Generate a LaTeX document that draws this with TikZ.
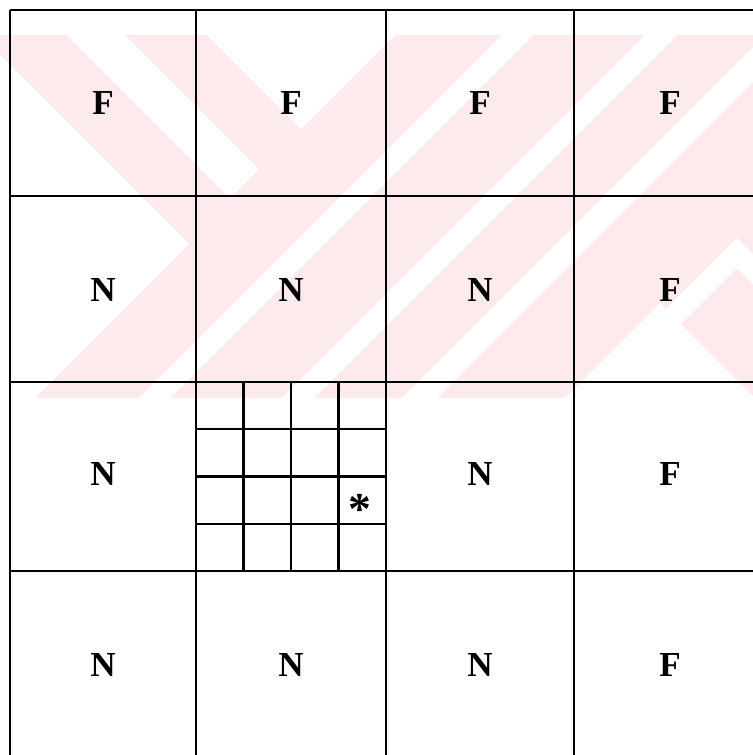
\documentclass[tikz,border=0pt]{standalone}
\usepackage{fontspec}
\setmainfont{Liberation Serif}
\usepackage{tikz}
\definecolor{wmpink}{RGB}{252,234,237}

\begin{document}
\begin{tikzpicture}[x=0.02cm, y=-0.02cm,
        grid/.style={line width=1.4pt, black},
        subgrid/.style={line width=1.3pt, black},
        lbl/.style={font=\fontsize{20}{22}\selectfont\bfseries}]
        \useasboundingbox (0,0) rectangle (753,755);
        % faint watermark of the scan
        \fill[wmpink] (0,35) rectangle (753,398);
        \fill[white] (0,55) -- (189,244) -- (35,398) -- (0,398) -- cycle;
        \fill[white] (67,35) -- (125,35) -- (259,169) -- (230,198) -- cycle;
        \fill[white] (207,35) -- (395,35) -- (301,129) -- cycle;
        \fill[white] (502,35) -- (533,35) -- (170,398) -- (139,398) -- cycle;
        \fill[white] (645,35) -- (677,35) -- (314,398) -- (282,398) -- cycle;
        \fill[white] (753,47) -- (753,82) -- (437,398) -- (402,398) -- cycle;
        \fill[white] (753,254) -- (737,238) -- (665,310) -- (680,325) -- (737,268) -- (753,284) -- cycle;
        \fill[white] (660,303) -- (565,398) -- (755,398) -- cycle;
        % coarse grid, open at right and bottom
        \foreach \x in {10,196,386,574}
            \draw[grid] (\x,10) -- (\x,755);
        \foreach \y in {10,196,382,571}
            \draw[grid] (10,\y) -- (753,\y);
        % refined cell
        \foreach \i in {1,2,3} {
            \draw[subgrid] ({196+\i*47.5},382) -- ({196+\i*47.5},571);
            \draw[subgrid] (196,{382+\i*47.25}) -- (386,{382+\i*47.25});
        }
        % cell labels
        \node[lbl] (r1c1) at (103,103) {F};
        \node[lbl] (r1c2) at (291,103) {F};
        \node[lbl] (r1c3) at (480,103) {F};
        \node[lbl] (r1c4) at (670,103) {F};
        \node[lbl] (r2c1) at (103,290) {N};
        \node[lbl] (r2c2) at (291,290) {N};
        \node[lbl] (r2c3) at (480,290) {N};
        \node[lbl] (r2c4) at (670,290) {F};
        \node[lbl] (r3c1) at (103,474) {N};
        \node[lbl] (r3c3) at (480,474) {N};
        \node[lbl] (r3c4) at (670,474) {F};
        \node[lbl] (r4c1) at (103,665) {N};
        \node[lbl] (r4c2) at (291,665) {N};
        \node[lbl] (r4c3) at (480,665) {N};
        \node[lbl] (r4c4) at (670,665) {F};
        \node[font=\fontsize{26}{28}\selectfont\bfseries] (refmark) at (360,509) {*};
    \end{tikzpicture}
\end{document}
